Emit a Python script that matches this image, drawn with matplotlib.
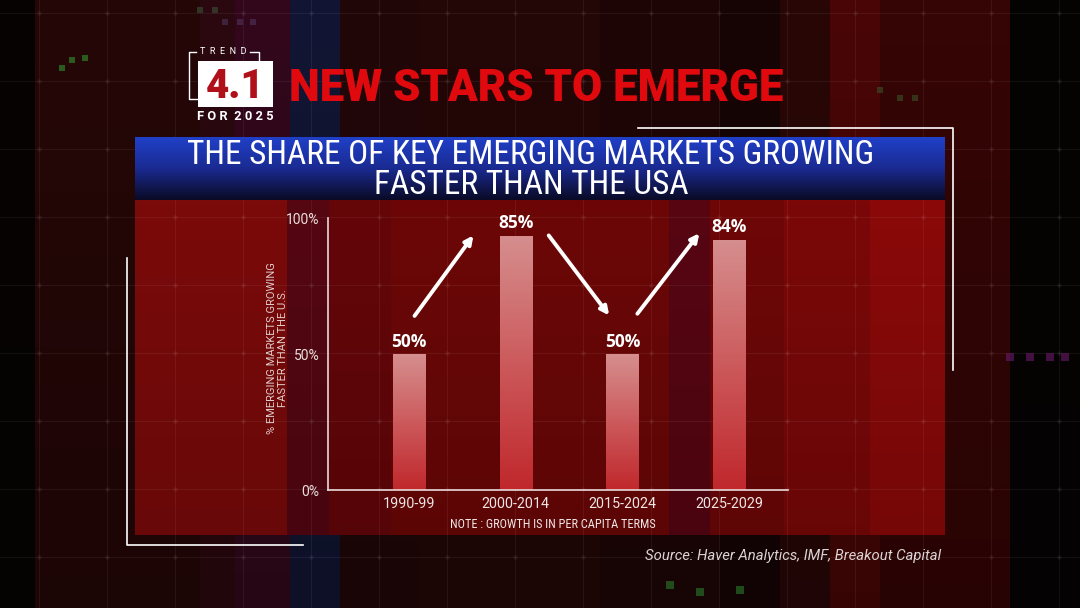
import numpy as np
import matplotlib
matplotlib.use('Agg')
import matplotlib.pyplot as plt
from matplotlib import font_manager as fm
from matplotlib.colors import LinearSegmentedColormap, to_rgb

# chart data
periods = ['1990-99', '2000-2014', '2015-2024', '2025-2029']
bar_heights = [50, 93.5, 50, 92]
bar_labels = ['50%', '85%', '50%', '84%']
y_ticks = [0, 50, 100]
y_tick_labels = ['0%', '50%', '100%']

installed = {f.name for f in fm.fontManager.ttflist}


def pick(*names):
    for n in names:
        if n in installed:
            return n
    return 'DejaVu Sans'


narrow = pick('Roboto Condensed', 'Liberation Sans Narrow', 'Roboto')
sans = pick('Roboto', 'Open Sans', 'DejaVu Sans')
wide = pick('Open Sans', 'Roboto', 'DejaVu Sans')

W, H = 1080, 608
fig = plt.figure(figsize=(W / 100, H / 100), dpi=100, facecolor='black')

# ---- background (pixel coordinates) ----
bg = fig.add_axes([0, 0, 1, 1])
bg.set_xlim(0, W)
bg.set_ylim(H, 0)
bg.axis('off')

stripes = [(0, 35, '#070303'), (35, 200, '#260707'), (200, 235, '#2c0810'),
           (235, 290, '#33081c'), (290, 340, '#121634'), (340, 420, '#220709'),
           (420, 600, '#240707'), (600, 720, '#1f0606'), (720, 780, '#170505'),
           (780, 830, '#2a0707'), (830, 880, '#4a0606'), (880, 1010, '#360505'),
           (1010, 1080, '#060303')]
img = np.zeros((H, W, 3))
for x0, x1, c in stripes:
    img[:, x0:x1] = to_rgb(c)
img = img * np.linspace(1.0, 0.75, H)[:, None, None]

# red panel, drawn into the same image
panel = [(135, 287, '#6e0909'), (287, 329, '#4c0610'), (329, 391, '#5a0508'),
         (391, 669, '#610606'), (669, 710, '#4e0510'), (710, 784, '#630606'),
         (784, 870, '#6e0707'), (870, 945, '#7c0808')]
shade = np.linspace(1.12, 0.95, 335)[:, None]
for x0, x1, c in panel:
    img[200:535, x0:x1] = np.clip(np.array(to_rgb(c))[None, None, :] * shade[:, :, None], 0, 1)
bg.imshow(img, extent=[0, W, H, 0], aspect='auto', zorder=0)

for gx in range(39, W, 68):
    bg.axvline(gx, color='white', alpha=0.06, lw=0.8, zorder=1)
for gy in range(13, H, 68):
    bg.axhline(gy, color='white', alpha=0.06, lw=0.8, zorder=1)
gxs, gys = np.meshgrid(np.arange(39, W, 68), np.arange(13, H, 68))
bg.scatter(gxs.ravel(), gys.ravel(), s=10, color='white', alpha=0.06, lw=0, zorder=1)

# faint glowing specks
bg.scatter([62, 72, 85, 200, 215, 225, 240, 253, 880, 900, 915],
           [68, 60, 58, 10, 10, 22, 22, 22, 90, 98, 98], s=25, marker='s',
           color=['#30a030'] * 3 + ['#3a5a3a'] * 2 + ['#503a60'] * 3 + ['#3a5a2a'] * 3,
           alpha=0.55, lw=0, zorder=1)
bg.scatter([1010, 1030, 1050, 1065, 670, 700, 740], [357, 357, 357, 357, 585, 592, 590],
           s=30, marker='s', color=['#6a1a6a'] * 4 + ['#2a7a2a'] * 3, alpha=0.6, lw=0, zorder=1)

# blue banner
banner = LinearSegmentedColormap.from_list('banner', ['#2040c8', '#1a2a90', '#0a0a26'])
bg.imshow(np.linspace(0, 1, 64)[:, None], cmap=banner, extent=[135, 945, 200, 137],
          aspect='auto', zorder=3)
bg.text(531, 170, 'THE SHARE OF KEY EMERGING MARKETS GROWING\nFASTER THAN THE USA',
        family=narrow, fontsize=24, color='white', ha='center', va='center',
        linespacing=0.92, zorder=4)

# decorative frame lines
bg.plot([638, 953, 953], [128, 128, 370], color='white', lw=1.2, zorder=4)
bg.plot([127, 127, 303], [258, 545, 545], color='white', lw=1.2, zorder=4)

# trend badge
bg.add_patch(plt.Rectangle((198, 61), 75, 46, facecolor='white', lw=0, zorder=4))
bg.plot([196, 189, 189, 198], [52, 52, 99, 99], color='white', lw=1, zorder=4)
bg.plot([250, 259, 259], [52, 52, 61], color='white', lw=1, zorder=4)
bg.text(223, 52, 'T  R  E  N  D', family=sans, fontsize=6.5, color='white',
        ha='center', va='center', zorder=4)
bg.text(235, 86, '4.1', family=sans, fontsize=29, weight='black', color='#b0101a',
        ha='center', va='center', zorder=5)
bg.text(235, 117, 'F O R  2 0 2 5', family=sans, fontsize=9.3, weight='bold',
        color='white', ha='center', va='center', zorder=4)

bg.text(289, 89, 'NEW STARS TO EMERGE', family=sans, fontsize=31.5, weight='black',
        color='#e00a0e', ha='left', va='center', zorder=4)

bg.text(941, 556, 'Source: Haver Analytics, IMF, Breakout Capital', family=sans,
        style='italic', fontsize=10.7, color='#ddd4d4', ha='right', va='center', zorder=4)

# ---- bar chart ----
ax = fig.add_axes([328 / W, 1 - 490 / H, 460 / W, 272 / H])
ax.patch.set_alpha(0)
x = np.arange(len(periods))
bars = ax.bar(x, bar_heights, width=0.3, color='none', lw=0)
grad = LinearSegmentedColormap.from_list('bar', ['#c0282c', '#cc5a5c', '#d68e8e'])
for b in bars:
    im = ax.imshow(np.linspace(0, 1, 128)[:, None], cmap=grad, origin='lower',
                   extent=[b.get_x(), b.get_x() + b.get_width(), 0, b.get_height()],
                   aspect='auto', zorder=2)
    im.set_clip_path(b)
for xi, h, lab in zip(x, bar_heights, bar_labels):
    ax.annotate(lab, (xi, h), xytext=(0, 2.5), textcoords='offset points',
                ha='center', va='bottom', family=wide, weight='bold',
                fontsize=12.5, color='white', annotation_clip=False)

arrows = [((0.054, 64.0), (0.605, 93.6)), ((1.31, 93.6), (1.876, 64.2)),
          ((2.14, 64.8), (2.72, 94.4))]
for tail, head in arrows:
    ax.annotate('', xy=head, xytext=tail,
                arrowprops=dict(arrowstyle='-|>', color='white', lw=2.8,
                                mutation_scale=12, shrinkA=0, shrinkB=0))

ax.set_xlim(-0.756, 3.55)
ax.set_ylim(0, 100)
ax.set_xticks(x)
ax.set_xticklabels(periods, family=sans, fontsize=10.3, color='#f0e6e6')
ax.set_yticks(y_ticks)
ax.set_yticklabels(y_tick_labels, family=sans, fontsize=10, color='#eadede')
ax.tick_params(length=0, pad=6)
ax.tick_params(axis='x', pad=5)
for s in ['top', 'right']:
    ax.spines[s].set_visible(False)
for s in ['left', 'bottom']:
    ax.spines[s].set_color('#e8dada')
    ax.spines[s].set_linewidth(1.2)
ax.set_ylabel('% EMERGING MARKETS GROWING\nFASTER THAN THE U.S.', family=sans,
              fontsize=8, color='#e0cccc', linespacing=1.05)
ax.yaxis.set_label_coords(-0.088, 0.52)

bg.text(553, 524, 'NOTE : GROWTH IS IN PER CAPITA TERMS', family=narrow,
        fontsize=8.8, color='#f0e6e6', ha='center', va='center', zorder=4)

fig.savefig('out.png', dpi=100, facecolor='black')
